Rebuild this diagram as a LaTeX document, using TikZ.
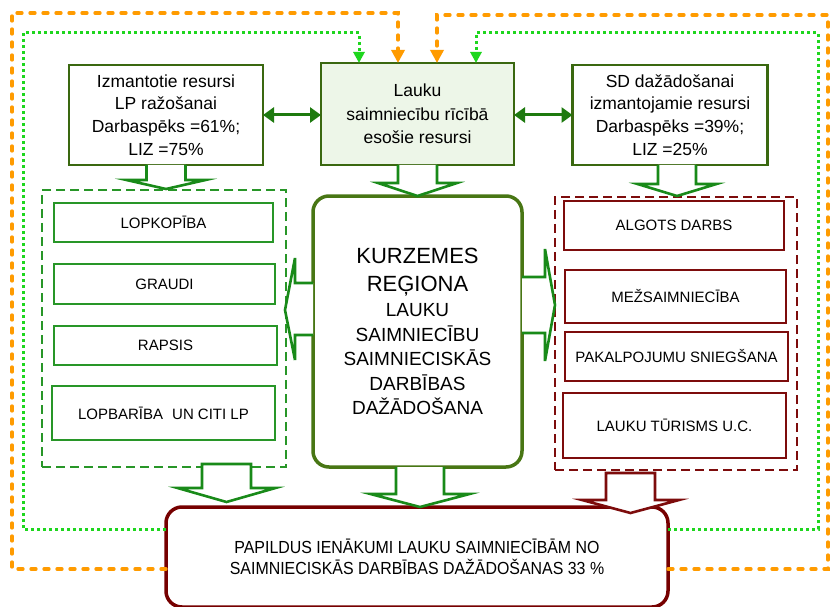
\documentclass[tikz,border=0pt]{standalone}
\usepackage{fontspec}
\setmainfont{Liberation Sans}
\newfontfamily\narrowfont[FakeStretch=0.91]{Liberation Sans}
\usetikzlibrary{arrows.meta,calc}
\definecolor{dkgreen}{RGB}{58,104,16}
\definecolor{topfill}{RGB}{237,246,232}
\definecolor{bigg}{RGB}{72,118,20}
\definecolor{agreen}{RGB}{25,138,25}
\definecolor{igreen}{RGB}{40,150,40}
\definecolor{dkred}{RGB}{125,12,12}
\definecolor{botred}{RGB}{118,0,0}
\definecolor{dotgreen}{RGB}{30,214,30}
\definecolor{orng}{RGB}{255,155,0}
\definecolor{dblgreen}{RGB}{30,122,15}
\begin{document}
\begin{tikzpicture}[x=1pt,y=-1pt,
  topbox/.style={draw=dkgreen, line width=2.4pt, inner sep=0pt, outer sep=0pt, align=center,
    font=\fontsize{17.5}{22.7}\selectfont},
  cont/.style={draw=#1, line width=1.3pt, dash pattern=on 9pt off 5pt, inner sep=0pt, outer sep=0pt},
  ibox/.style={draw=#1, line width=1.4pt, inner sep=0pt, outer sep=0pt, font=\fontsize{15}{18}\selectfont},
  barrow/.style={draw=#1, line width=2.6pt, fill=white, line join=miter},
  dblarrow/.style={draw=dblgreen, line width=3pt, {Triangle[length=11pt,width=15pt]}-{Triangle[length=11pt,width=15pt]}},
  orangeline/.style={draw=orng, line width=3.3pt, line cap=round, dash pattern=on 5pt off 8pt,
    -{Triangle[length=13pt,width=13pt]}},
  dotline/.style={draw=dotgreen, line width=3pt, dash pattern=on 3pt off 3pt,
    -{Triangle[length=11pt,width=11pt]}}
]
\useasboundingbox (0,0) rectangle (833,607);
\fill[white] (0,0) rectangle (833,607);

% top boxes
\node[topbox, minimum width=194pt, minimum height=100pt] (topL) at (166,115)
  {Izmantotie resursi\\LP ražošanai\\Darbaspēks =61\%;\\LIZ =75\%};
\node[topbox, fill=topfill, minimum width=193pt, minimum height=102pt, font=\fontsize{17.5}{23.5}\selectfont] (topC) at (417.5,114)
  {Lauku\\saimniecību rīcībā\\esošie resursi};
\node[topbox, minimum width=195pt, minimum height=100pt] (topR) at (670,115)
  {SD dažādošanai\\izmantojamie resursi\\Darbaspēks =39\%;\\LIZ =25\%};

% double arrows
\draw[dblarrow] (topL.east) -- (topL.east -| topC.west);
\draw[dblarrow] (topC.east |- topR.west) -- (topR.west);

% containers
\node[cont=igreen, minimum width=244pt, minimum height=277pt] (contL) at (164,328.5) {};
\node[cont=dkred, minimum width=242pt, minimum height=273pt] (contR) at (676,333.5) {};

% left inner boxes
\node[ibox=igreen, minimum width=219pt, minimum height=39pt] (lop) at (163.5,222.5) {LOPKOPĪBA};
\node[ibox=igreen, minimum width=221pt, minimum height=40pt] (gra) at (164.5,284) {GRAUDI};
\node[ibox=igreen, minimum width=223pt, minimum height=39pt] (rap) at (165.5,345.5) {RAPSIS};
\node[ibox=igreen, minimum width=223pt, minimum height=54pt] (lpb) at (163.5,413) {LOPBARĪBA\hspace{0.6em}UN CITI LP};

% right inner boxes
\node[ibox=dkred, minimum width=220pt, minimum height=49pt] (alg) at (674,225.5) {ALGOTS DARBS};
\node[ibox=dkred, minimum width=221pt, minimum height=53pt] (mez) at (675.5,296.5) {MEŽSAIMNIECĪBA};
\node[ibox=dkred, minimum width=223pt, minimum height=49pt] (pak) at (676.5,356.5) {PAKALPOJUMU SNIEGŠANA};
\node[ibox=dkred, minimum width=223pt, minimum height=65pt] (tur) at (674.5,425.5) {LAUKU TŪRISMS U.C.};

% central box
\node[draw=bigg, line width=3.5pt, rounded corners=16pt, inner sep=0pt, outer sep=0pt,
  minimum width=209pt, minimum height=271pt, align=center,
  font=\fontsize{19}{24.5}\selectfont] (mid) at (417.5,331.5)
  {{\fontsize{22}{28}\selectfont KURZEMES}\\[3pt]{\fontsize{22}{28}\selectfont REĢIONA}\\[1pt]
   LAUKU\\SAIMNIECĪBU\\SAIMNIECISKĀS\\DARBĪBAS\\DAŽĀDOŠANA};

% bottom box
\node[draw=botred, line width=3.5pt, rounded corners=16pt, inner sep=0pt, outer sep=0pt,
  minimum width=502pt, minimum height=100pt, align=center,
  font=\narrowfont\fontsize{17.5}{21}\selectfont] (bot) at (417,557)
  {PAPILDUS IENĀKUMI LAUKU SAIMNIECĪBĀM NO\\SAIMNIECISKĀS DARBĪBAS DAŽĀDOŠANAS\ 33 \%};

% block arrows (top)
\begin{scope}[shift={(topL.south)}]
  \draw[barrow=agreen] (-19.5,0) -- (-19.5,15) -- (-39.5,15) -- (0,24) -- (39.5,15) -- (19.5,15) -- (19.5,0);
\end{scope}
\begin{scope}[shift={(topC.south)}]
  \draw[barrow=agreen] (-19.5,0) -- (-19.5,18) -- (-39.5,18) -- (0,31) -- (39.5,18) -- (19.5,18) -- (19.5,0);
\end{scope}
\begin{scope}[shift={($(topR.south)+(7,0)$)}]
  \draw[barrow=agreen] (-19,0) -- (-19,19) -- (-39.5,19) -- (0,31) -- (39.5,19) -- (19,19) -- (19,0);
\end{scope}

% side arrows
\begin{scope}[shift={(mid.west)}]
  \draw[barrow=agreen] (0,-48.5) -- (-18,-48.5) -- (-18,-73.5) -- (-28,-21.5) -- (-18,28.5) -- (-18,3.5) -- (0,3.5);
\end{scope}
\begin{scope}[shift={(mid.east)}]
  \draw[barrow=agreen] (0,-54.5) -- (23,-54.5) -- (23,-82.5) -- (33,-26.5) -- (23,29.5) -- (23,1.5) -- (0,1.5);
\end{scope}

% block arrows (bottom)
\begin{scope}[shift={($(contL.south)+(62.5,-3)$)}]
  \draw[barrow=agreen] (-24.5,0) -- (-24.5,24) -- (-49,24) -- (0,38) -- (49,24) -- (24.5,24) -- (24.5,0) -- cycle;
\end{scope}
\begin{scope}[shift={($(mid.south)+(2.5,0)$)}]
  \draw[barrow=agreen] (-24,0) -- (-24,27) -- (-49.5,27) -- (0,40) -- (49.5,27) -- (24,27) -- (24,0);
\end{scope}
\begin{scope}[shift={($(contR.south)+(-45.5,3)$)}]
  \draw[barrow=dkred] (-24.5,0) -- (-24.5,27) -- (-48.5,27) -- (0,40) -- (48.5,27) -- (24.5,27) -- (24.5,0) -- cycle;
\end{scope}

% feedback loops
\coordinate (oL) at (bot.west |- 0,569);
\coordinate (oR) at (bot.east |- 0,569);
\coordinate (gL) at (bot.west |- 0,529);
\coordinate (gR) at (bot.east |- 0,529);
\draw[orangeline] (oL) -- (12,569) -- (12,13) -- (398,13) -- ($(topC.north)+(-19.5,0)$);
\draw[orangeline] (oR) -- (828,569) -- (828,15) -- (437,15) -- ($(topC.north)+(19.5,0)$);
\draw[dotline] (gL) -- (23,529) -- (23,33) -- (359,33) -- ($(topC.north)+(-58.5,0)$);
\draw[dotline] (gR) -- (818,529) -- (818,33) -- (476,33) -- ($(topC.north)+(58.5,0)$);
\end{tikzpicture}
\end{document}
